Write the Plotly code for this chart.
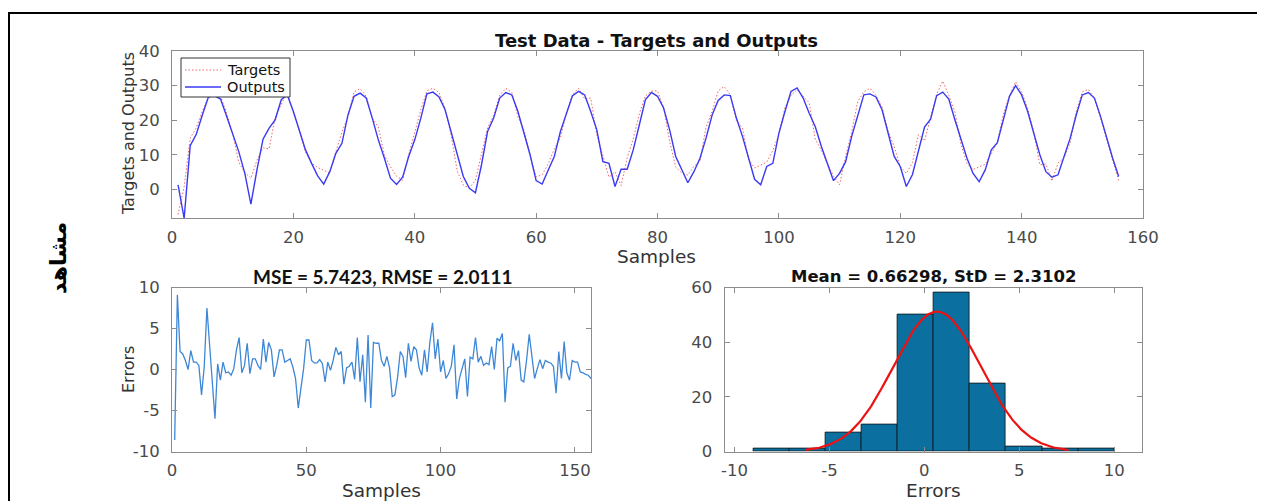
import numpy as np
import plotly.graph_objects as go

# ---------------- data ----------------
samples = list(range(1, 157))

outputs = [
    1.3, -8.4, 12.6, 15.9, 21.5, 26.7, 27.1, 26.1, 21.1, 15.7,
    10.9, 4.6, -4.3, 5.6, 14.5, 17.7, 20.1, 25.9, 27.3, 22.5,
    17.2, 11.4, 7.5, 3.9, 1.5, 5.1, 10.4, 13.3, 21.5, 26.9,
    27.8, 26.4, 20.6, 14.3, 9.0, 3.2, 1.4, 3.5, 9.5, 14.3,
    20.6, 27.6, 28.1, 26.7, 23.0, 16.7, 10.0, 3.7, 0.3, -1.0,
    7.1, 16.7, 20.6, 26.4, 28.0, 27.3, 22.5, 16.2, 10.0, 2.5,
    1.5, 5.6, 9.5, 16.7, 22.2, 27.1, 28.3, 27.3, 22.5, 17.2,
    8.0, 7.5, 0.8, 5.8, 5.8, 11.4, 18.6, 25.9, 28.0, 26.9,
    23.5, 17.2, 9.5, 5.6, 1.9, 5.1, 9.0, 14.8, 21.5, 25.7,
    27.3, 27.1, 20.6, 15.3, 9.0, 2.9, 1.3, 6.6, 7.5, 16.2,
    22.5, 28.3, 29.3, 26.4, 22.0, 18.1, 12.4, 7.3, 2.5, 4.6,
    8.0, 15.3, 21.5, 27.3, 27.6, 26.7, 23.0, 16.2, 9.5, 6.6,
    0.8, 4.2, 11.4, 18.0, 20.3, 27.1, 28.1, 26.1, 20.1, 14.3,
    9.0, 4.6, 2.2, 5.6, 11.4, 13.5, 20.6, 26.9, 30.0, 27.3,
    22.5, 16.2, 10.0, 5.1, 3.5, 4.2, 9.5, 14.8, 21.5, 27.3,
    28.0, 26.4, 21.1, 14.8, 9.0, 3.7,
]

targets = [
    -7.3, 0.7, 14.8, 17.8, 22.6, 26.7, 29.4, 27.0, 22.0, 16.2,
    7.8, 4.9, 3.2, 8.4, 12.0, 11.7, 20.8, 24.6, 28.2, 22.1,
    16.9, 10.7, 7.6, 6.3, 5.4, 4.7, 10.9, 16.5, 21.0, 28.2,
    29.1, 26.9, 20.6, 18.0, 9.9, 6.5, 3.8, 2.6, 10.0, 16.7,
    23.0, 28.5, 29.2, 28.0, 23.3, 15.6, 5.3, 1.2, 0.4, 2.6,
    10.7, 17.8, 21.4, 27.2, 29.2, 28.0, 21.0, 17.1, 9.9, 3.6,
    4.2, 7.4, 11.7, 14.9, 22.4, 27.5, 29.2, 26.1, 26.4, 15.7,
    9.8, 3.5, 5.0, 1.1, 9.1, 14.6, 21.8, 27.0, 28.4, 28.5,
    23.7, 13.9, 6.4, 4.7, 4.1, 6.7, 8.0, 18.0, 22.5, 28.5,
    29.7, 27.3, 19.9, 17.7, 8.7, 6.2, 7.0, 7.9, 11.2, 15.9,
    23.6, 27.2, 28.8, 26.8, 25.0, 14.5, 11.3, 7.4, 3.8, 1.3,
    9.5, 16.6, 25.4, 28.2, 29.2, 27.2, 23.8, 16.8, 12.3, 6.6,
    4.6, 7.7, 15.8, 14.0, 20.5, 27.5, 31.3, 27.2, 22.4, 13.0,
    7.5, 5.7, 6.5, 7.2, 10.3, 13.6, 21.8, 27.0, 31.1, 28.2,
    23.3, 16.6, 7.1, 7.3, 2.4, 7.6, 9.1, 13.5, 22.6, 28.2,
    28.9, 26.1, 20.7, 14.2, 8.3, 2.6,
]

errors = [
    -8.6, 9.1, 2.2, 1.9, 1.1, 0.0, 2.3, 0.9, 0.9, 0.5,
    -3.1, 0.3, 7.5, 2.8, -2.5, -6.0, 0.7, -1.3, 0.9, -0.4,
    -0.3, -0.7, 0.1, 2.4, 3.9, -0.4, 0.5, 3.2, -0.5, 1.3,
    1.3, 0.5, 0.0, 3.7, 0.9, 3.3, 2.4, -0.9, 0.5, 2.4,
    2.4, 0.9, 1.1, 1.3, 0.3, -1.1, -4.7, -2.5, 0.1, 3.6,
    3.6, 1.1, 0.8, 0.8, 1.2, 0.7, -1.5, 0.9, -0.1, 1.1,
    2.7, 1.8, 2.2, -1.8, 0.2, 0.4, 0.9, -1.2, 3.9, -1.5,
    1.8, -4.0, 4.2, -4.7, 3.3, 3.2, 3.2, 1.1, 0.4, 1.6,
    0.2, -3.3, -3.1, -0.9, 2.2, 1.6, -1.0, 3.2, 1.0, 2.8,
    2.4, 0.2, -0.7, 2.4, -0.3, 3.3, 5.7, 1.3, 3.7, -0.3,
    1.1, -1.1, -0.5, 0.4, 3.0, -3.6, -1.1, 0.1, 1.3, -3.3,
    1.5, 1.3, 3.9, 0.9, 1.6, 0.5, 0.8, 0.6, 2.8, 0.0,
    3.8, 3.5, 4.4, -4.0, 0.2, 0.4, 3.2, 1.1, 2.3, -1.3,
    -1.5, 1.1, 4.3, 1.6, -1.1, 0.1, 1.2, 0.1, 1.1, 0.9,
    0.8, 0.4, -2.9, 2.2, -1.1, 3.4, -0.4, -1.3, 1.1, 0.9,
    0.9, -0.3, -0.4, -0.6, -0.7, -1.1,
]

bin_edges = [-9.0, -7.1, -5.2, -3.3, -1.4, 0.5, 2.4, 4.3, 6.2, 8.1, 10.0]
bin_counts = [1, 1, 7, 10, 50, 58, 25, 2, 1, 1]

err_mean = 0.66298
err_std = 2.3102

top_xticks = [0, 20, 40, 60, 80, 100, 120, 140, 160]
top_yticks = [0, 10, 20, 30, 40]
err_xticks = [0, 50, 100, 150]
err_yticks = [-10, -5, 0, 5, 10]
hist_xticks = [-10, -5, 0, 5, 10]
hist_yticks = [0, 20, 40, 60]

legend_names = ["Targets", "Outputs"]

# ---------------- derived ----------------
edges = np.array(bin_edges)
centers = (edges[:-1] + edges[1:]) / 2
widths = edges[1:] - edges[:-1]
bw = float(np.mean(widths))
n_total = sum(bin_counts)
xf = np.linspace(err_mean - 3 * err_std, err_mean + 3 * err_std, 200)
yf = n_total * bw / (err_std * np.sqrt(2 * np.pi)) * np.exp(-0.5 * ((xf - err_mean) / err_std) ** 2)

# the page places the figure 8px from the window's top-left corner
OFF = 8
W, H = 1265 - OFF, 501 - OFF
def px(x):
    return (x - OFF) / W
def py(y):
    return 1 - (y - OFF) / H

TICKFONT = dict(family="DejaVu Sans", size=16.5, color="#4a4a4a")
LINEC = "#8c8c8c"

def ax_style(**kw):
    d = dict(showline=True, linecolor=LINEC, linewidth=1, mirror="ticks",
             ticks="inside", ticklen=5, tickcolor=LINEC, showgrid=False,
             zeroline=False, tickfont=TICKFONT, automargin=False,
             ticklabelstandoff=4)
    d.update(kw)
    return d

TARGET_LINE = dict(color="#f46464", width=1, dash="1.5px,2px")
OUTPUT_LINE = dict(color="#3a3af5", width=1.4)

fig = go.Figure()

fig.add_trace(go.Scatter(x=samples, y=targets, mode="lines", name=legend_names[0],
                         line=TARGET_LINE, showlegend=False,
                         xaxis="x", yaxis="y"))
fig.add_trace(go.Scatter(x=samples, y=outputs, mode="lines", name=legend_names[1],
                         line=OUTPUT_LINE, showlegend=False,
                         xaxis="x", yaxis="y"))
fig.add_trace(go.Scatter(x=samples, y=errors, mode="lines", showlegend=False,
                         line=dict(color="#3d87d6", width=1.3),
                         xaxis="x2", yaxis="y2"))
fig.add_trace(go.Bar(x=centers, y=bin_counts, width=widths, showlegend=False,
                     marker=dict(color="#0b6f9f", line=dict(color="#111111", width=0.8)),
                     xaxis="x3", yaxis="y3"))
fig.add_trace(go.Scatter(x=xf, y=yf, mode="lines", showlegend=False,
                         line=dict(color="#ee1111", width=2.2),
                         xaxis="x3", yaxis="y3"))

fig.update_layout(
    width=W, height=H,
    margin=dict(l=0, r=0, t=0, b=0),
    paper_bgcolor="white", plot_bgcolor="white",
    xaxis=ax_style(domain=[px(172), px(1143)], range=[0, 160], anchor="y",
                   tickvals=top_xticks, ticktext=[str(v) for v in top_xticks]),
    yaxis=ax_style(domain=[py(218), py(51)], range=[-8.3, 40], anchor="x",
                   tickvals=top_yticks, ticktext=[str(v) for v in top_yticks],
                   ticklabelstandoff=8),
    xaxis2=ax_style(domain=[px(172), px(591)], range=[0, 156], anchor="y2",
                    tickvals=err_xticks, ticktext=[str(v) for v in err_xticks]),
    yaxis2=ax_style(domain=[py(451.5), py(287.5)], range=[-10, 10], anchor="x2",
                    tickvals=err_yticks, ticktext=[str(v) for v in err_yticks],
                    ticklabelstandoff=8),
    xaxis3=ax_style(domain=[px(724.5), px(1141.5)], range=[-10.53, 11.44], anchor="y3",
                    tickvals=hist_xticks, ticktext=[str(v) for v in hist_xticks]),
    yaxis3=ax_style(domain=[py(451.5), py(287.5)], range=[0, 60], anchor="x3",
                    tickvals=hist_yticks, ticktext=[str(v) for v in hist_yticks],
                    ticklabelstandoff=8),
    bargap=0,
    showlegend=False,
)

LABELC = "#333333"
ann = [
    dict(text="<b>Test Data - Targets and Outputs</b>", x=px(657), y=py(40),
         font=dict(family="DejaVu Sans", size=18, color="#111111")),
    dict(text="Targets and Outputs", x=px(128), y=py(134), textangle=-90,
         font=dict(family="DejaVu Sans", size=16, color=LABELC)),
    dict(text="Samples", x=px(657), y=py(257),
         font=dict(family="DejaVu Sans", size=18.5, color=LABELC)),
    dict(text="<b>MSE = 5.7423, RMSE = 2.0111</b>", x=px(383), y=py(276),
         font=dict(family="Lato", size=19, color="#111111")),
    dict(text="<b>Mean = 0.66298, StD = 2.3102</b>", x=px(933), y=py(276),
         font=dict(family="DejaVu Sans", size=16.5, color="#111111")),
    dict(text="Errors", x=px(128), y=py(370), textangle=-90,
         font=dict(family="DejaVu Sans", size=16, color=LABELC)),
    dict(text="Samples", x=px(381), y=py(490),
         font=dict(family="DejaVu Sans", size=18.5, color=LABELC)),
    dict(text="Errors", x=px(933), y=py(490),
         font=dict(family="DejaVu Sans", size=18.5, color=LABELC)),
    dict(text="<b>مشاهد</b>", x=px(58), y=py(258), textangle=-90,
         font=dict(family="DejaVu Sans", size=22, color="#000000")),
]
# legend entries (box drawn as shapes below)
for name, yc in zip(legend_names, [70, 87]):
    ann.append(dict(text=name, x=px(225), y=py(yc), xanchor="left",
                    font=dict(family="DejaVu Sans", size=14.5, color="#111111")))
for a in ann:
    a.update(xref="paper", yref="paper", showarrow=False, yanchor="middle")
    a.setdefault("xanchor", "center")
fig.update_layout(annotations=ann)

# legend box and sample lines
fig.add_shape(type="rect", xref="paper", yref="paper",
              x0=px(181), x1=px(290), y0=py(97), y1=py(58),
              line=dict(color="#333333", width=1), fillcolor="white", layer="above")
fig.add_shape(type="line", xref="paper", yref="paper",
              x0=px(185), x1=px(221), y0=py(70), y1=py(70),
              line=TARGET_LINE, layer="above")
fig.add_shape(type="line", xref="paper", yref="paper",
              x0=px(185), x1=px(221), y0=py(87), y1=py(87),
              line=OUTPUT_LINE, layer="above")

# outer frame
fig.add_shape(type="rect", xref="paper", yref="paper",
              x0=px(9), x1=px(1258), y0=-0.2, y1=py(13),
              line=dict(color="#000000", width=2), fillcolor="rgba(0,0,0,0)", layer="above")

fig.write_html("out.html")
